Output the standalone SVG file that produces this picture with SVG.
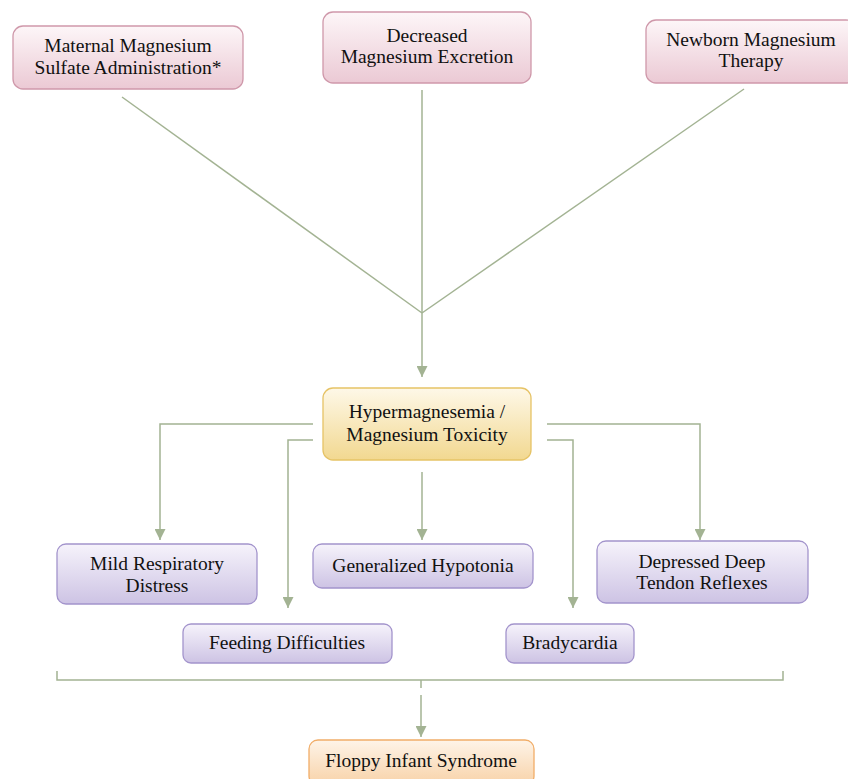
<svg xmlns="http://www.w3.org/2000/svg" width="848" height="779" viewBox="0 0 848 779">
<defs>
<linearGradient id="gPink" x1="0" y1="0" x2="0" y2="1"><stop offset="0" stop-color="#fdf6f8"/><stop offset="1" stop-color="#ebc9d4"/></linearGradient>
<linearGradient id="gGold" x1="0" y1="0" x2="0" y2="1"><stop offset="0" stop-color="#fef8e8"/><stop offset="1" stop-color="#f2d890"/></linearGradient>
<linearGradient id="gPurple" x1="0" y1="0" x2="0" y2="1"><stop offset="0" stop-color="#f6f3fb"/><stop offset="1" stop-color="#cdc3e4"/></linearGradient>
<linearGradient id="gOrange" x1="0" y1="0" x2="0" y2="1"><stop offset="0" stop-color="#fef4e8"/><stop offset="1" stop-color="#f8d2a8"/></linearGradient>
<marker id="arr" viewBox="0 0 10 10" refX="10" refY="5" markerWidth="11" markerHeight="11" markerUnits="userSpaceOnUse" orient="auto">
<path d="M0,0 L10,5 L0,10 Z" fill="#a3b393"/>
</marker>
</defs>
<style>
.pink{fill:url(#gPink);stroke:#cf98aa;stroke-width:1.3}
.gold{fill:url(#gGold);stroke:#e6c366;stroke-width:1.3}
.purple{fill:url(#gPurple);stroke:#a394cc;stroke-width:1.3}
.orange{fill:url(#gOrange);stroke:#f1ad68;stroke-width:1.3}
text{font-family:"Liberation Serif","Times New Roman",serif;font-size:19.5px;fill:#111;text-anchor:middle}
.c{fill:none;stroke:#a3b393;stroke-width:1.5}
</style>
<rect width="848" height="779" fill="#ffffff"/>
<g id="connectors">
<line class="c" x1="122" y1="97" x2="422" y2="313"/>
<line class="c" x1="422" y1="90" x2="422" y2="313"/>
<line class="c" x1="744" y1="89" x2="422" y2="313"/>
<path class="c" d="M422,313 V377" marker-end="url(#arr)"/>
<path class="c" d="M313,424 H160 V540" marker-end="url(#arr)"/>
<path class="c" d="M313,440 H288 V608" marker-end="url(#arr)"/>
<path class="c" d="M422,472 V540" marker-end="url(#arr)"/>
<path class="c" d="M547,440 H573 V608" marker-end="url(#arr)"/>
<path class="c" d="M547,424 H700 V540" marker-end="url(#arr)"/>
<path class="c" d="M57,671 V680 H783 V671"/>
<path class="c" d="M421,680 V688"/>
<path class="c" d="M421,695 V737" marker-end="url(#arr)"/>
</g>
<g id="n1"><rect class="pink" x="13" y="26" width="230" height="63" rx="10"/><text x="128" y="52">Maternal Magnesium</text><text x="128" y="74">Sulfate Administration*</text></g>
<g id="n2"><rect class="pink" x="323" y="12" width="208" height="71" rx="10"/><text x="427" y="42">Decreased</text><text x="427" y="63">Magnesium Excretion</text></g>
<g id="n3"><rect class="pink" x="646" y="20" width="210" height="63" rx="10"/><text x="751" y="46">Newborn Magnesium</text><text x="751" y="67">Therapy</text></g>
<g id="n4"><rect class="gold" x="323" y="388" width="208" height="72" rx="10"/><text x="427" y="418">Hypermagnesemia /</text><text x="427" y="441">Magnesium Toxicity</text></g>
<g id="n5"><rect class="purple" x="57" y="544" width="200" height="60" rx="9"/><text x="157" y="570">Mild Respiratory</text><text x="157" y="592">Distress</text></g>
<g id="n6"><rect class="purple" x="313" y="544" width="220" height="44" rx="9"/><text x="423" y="572">Generalized Hypotonia</text></g>
<g id="n7"><rect class="purple" x="597" y="541" width="211" height="62" rx="9"/><text x="702" y="568">Depressed Deep</text><text x="702" y="589">Tendon Reflexes</text></g>
<g id="n8"><rect class="purple" x="183" y="624" width="209" height="39" rx="8"/><text x="287" y="649">Feeding Difficulties</text></g>
<g id="n9"><rect class="purple" x="506" y="624" width="128" height="39" rx="8"/><text x="570" y="649">Bradycardia</text></g>
<g id="n10"><rect class="orange" x="309" y="740" width="225" height="45" rx="9"/><text x="421" y="767">Floppy Infant Syndrome</text></g>
</svg>
